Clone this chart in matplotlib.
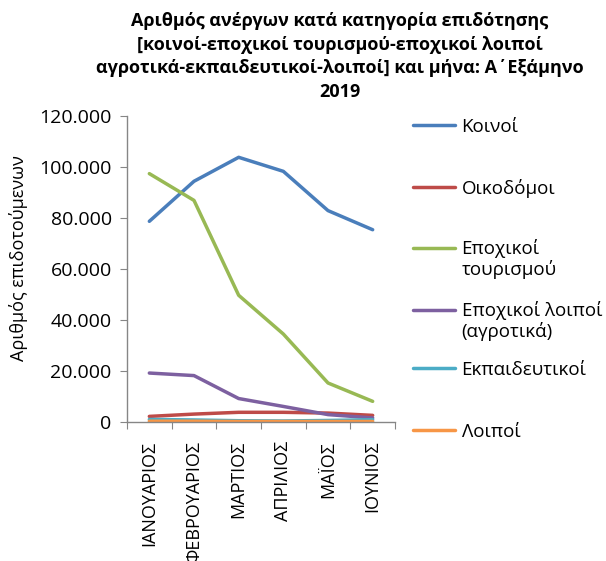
import matplotlib
matplotlib.use("Agg")
import matplotlib.pyplot as plt
from matplotlib.ticker import FuncFormatter, FixedLocator
from matplotlib.legend_handler import HandlerLine2D
import numpy as np

plt.rcParams['font.family'] = ['Open Sans', 'DejaVu Sans']

months = ["ΙΑΝΟΥΑΡΙΟΣ", "ΦΕΒΡΟΥΑΡΙΟΣ", "ΜΑΡΤΙΟΣ", "ΑΠΡΙΛΙΟΣ", "ΜΑΪΟΣ", "ΙΟΥΝΙΟΣ"]
koinoi = [78700, 94400, 103800, 98300, 82900, 75400]
oikodomoi = [2200, 3100, 3800, 3800, 3500, 2600]
epoxikoi_tour = [97400, 86900, 49700, 34500, 15300, 8100]
epoxikoi_loipoi = [19200, 18200, 9200, 6100, 2900, 1600]
ekpaideutikoi = [1000, 800, 500, 400, 600, 900]
loipoi = [300, 300, 200, 200, 200, 200]

series_labels = ["Κοινοί", "Οικοδόμοι", "Εποχικοί\nτουρισμού", "Εποχικοί λοιποί\n(αγροτικά)",
                 "Εκπαιδευτικοί", "Λοιποί"]
colors = ["#4A7EBB", "#BE4B48", "#98B954", "#7D60A0", "#4BACC6", "#F79646"]
series = [koinoi, oikodomoi, epoxikoi_tour, epoxikoi_loipoi, ekpaideutikoi, loipoi]


class ShiftedLine(HandlerLine2D):
    def __init__(self, dy=0.0, **kw):
        super().__init__(**kw)
        self.dy = dy

    def create_artists(self, legend, orig_handle, xdescent, ydescent, width, height, fontsize, trans):
        arts = super().create_artists(legend, orig_handle, xdescent, ydescent, width, height, fontsize, trans)
        for a in arts:
            a.set_ydata(np.asarray(a.get_ydata(), dtype=float) + self.dy)
        return arts


W, H = 606, 561
fig = plt.figure(figsize=(W / 100, H / 100), dpi=100)
ax = fig.add_axes([127 / W, 1 - 422 / H, (395 - 127) / W, (422 - 116) / H])

x = np.arange(len(months)) + 0.5
handles = []
for vals, c, lab in zip(series, colors, series_labels):
    h, = ax.plot(x, vals, color=c, lw=2.5, solid_capstyle='round', label=lab)
    handles.append(h)

ax.set_xlim(0, len(months))
ax.set_ylim(0, 120000)
ax.set_yticks(np.arange(0, 120001, 20000))
ax.yaxis.set_major_formatter(FuncFormatter(lambda v, p: "0" if v == 0 else f"{int(v):,}".replace(",", ".")))

ax.xaxis.set_major_locator(FixedLocator(np.arange(0, len(months) + 1)))
ax.xaxis.set_minor_locator(FixedLocator(x))
ax.set_xticklabels([], minor=False)
ax.set_xticklabels(months, minor=True, rotation=90, va='top', ha='center',
                   family=['Liberation Sans Narrow', 'Open Sans', 'DejaVu Sans'])
ax.tick_params(axis='x', which='minor', length=0, labelsize=13, pad=13.5, colors='#000000')
ax.tick_params(axis='x', which='major', length=5, color='#868686')
ax.tick_params(axis='y', length=5, color='#868686', labelsize=14, pad=6)

for s in ['top', 'right']:
    ax.spines[s].set_visible(False)
for s in ['left', 'bottom']:
    ax.spines[s].set_color('#868686')
    ax.spines[s].set_linewidth(1)

ax.set_ylabel("Αριθμός επιδοτούμενων", fontsize=13)
ax.yaxis.set_label_coords((28 - 127) / 268, (422 - 258) / 306)

fig.text(340 / W, 1 - 12 / H,
         "Αριθμός ανέργων κατά κατηγορία επιδότησης\n[κοινοί-εποχικοί τουρισμού-εποχικοί λοιποί\nαγροτικά-εκπαιδευτικοί-λοιποί] και μήνα: Α΄Εξάμηνο\n2019",
         ha='center', va='top', fontsize=13, fontweight='bold', linespacing=1.4)

# legend entries: handle y positions (first text line) in pixels
handle_y = [127, 188, 248, 310, 370, 432]
legend_fs = 13.5
line_px = 22.5
for h, lab, yy in zip(handles, series_labels, handle_y):
    nlines = lab.count("\n") + 1
    extra = (nlines - 1) * line_px / 2.0
    yc = yy + extra
    lg = fig.legend(handles=[h], labels=[lab], loc='center left',
                    bbox_to_anchor=(413 / W, 1 - yc / H), frameon=False,
                    fontsize=legend_fs, handlelength=2.24, handletextpad=0.35,
                    borderpad=0, borderaxespad=0,
                    handler_map={h: ShiftedLine(dy=extra * 0.72)})
    for t in lg.get_texts():
        t.set_linespacing(1.1)

fig.savefig("out.png", dpi=100)
